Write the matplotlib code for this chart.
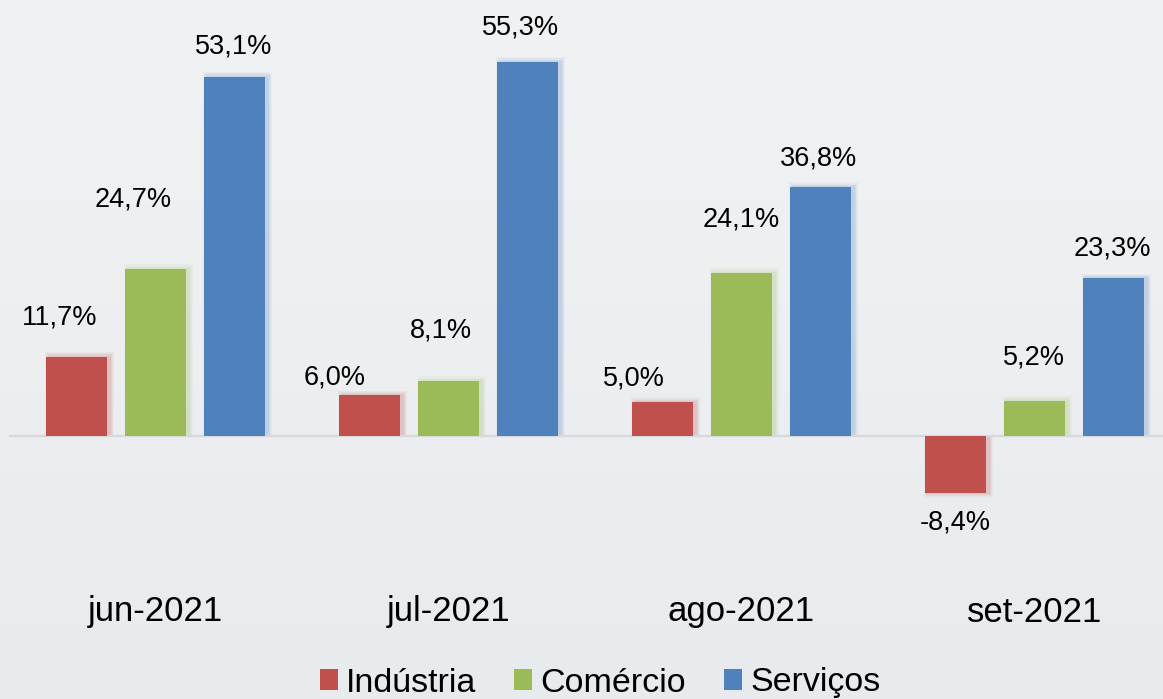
import numpy as np
import matplotlib.pyplot as plt
from matplotlib.patches import Patch

# ------------------------------------------------------------
# Data
# ------------------------------------------------------------
categories = ["jun-2021", "jul-2021", "ago-2021", "set-2021"]
series_names = ["Indústria", "Comércio", "Serviços"]
industria = [11.7, 6.0, 5.0, -8.4]
comercio = [24.7, 8.1, 24.1, 5.2]
servicos = [53.1, 55.3, 36.8, 23.3]

colors = ["#C0504D", "#9BBB59", "#4F81BD"]

# label offsets (pixels) from bar end, per series / category
label_offsets = [
    [(-17, 39), (-35, 18), (-29, 24), (0, -30)],
    [(-22, 69), (-8, 51), (0, 54), (-1, 43)],
    [(-1, 30), (-7, 35), (-2, 29), (-1, 30)],
]

plt.rcParams["font.family"] = ["Liberation Sans", "DejaVu Sans"]

W, H, DPI = 1163, 699, 100
fig = plt.figure(figsize=(W / DPI, H / DPI), dpi=DPI)

# background gradient
bg = fig.add_axes([0, 0, 1, 1])
grad = np.linspace(0, 1, 256).reshape(-1, 1)
top = np.array([0.945, 0.949, 0.957])
bot = np.array([0.910, 0.922, 0.933])
img = top[None, None, :] * (1 - grad[:, :, None]) + bot[None, None, :] * grad[:, :, None]
bg.imshow(img, aspect="auto", extent=[0, 1, 0, 1])
bg.axis("off")

# main axes: pixel mapping
px_per_unit = 6.763
zero_px = 436
ymin = -(H - zero_px) / px_per_unit
ymax = zero_px / px_per_unit
group_px = 293
x0_px = 155.5
xmin = -(x0_px - 9) / group_px
xmax = (W - x0_px) / group_px

ax = fig.add_axes([9 / W, 0, 1 - 9 / W, 1])
ax.set_xlim(xmin, xmax)
ax.set_ylim(ymin, ymax)
ax.axis("off")
ax.patch.set_alpha(0)

bar_w = 61 / group_px
step = 79 / group_px
px = 1 / group_px
x = np.arange(len(categories))
all_series = [industria, comercio, servicos]

for i, (vals, c) in enumerate(zip(all_series, colors)):
    xs = x + (i - 1) * step
    v = np.array(vals)
    # soft shadow/glow to the right of bars
    for k, a in zip([8, 6, 4, 2], [0.05, 0.06, 0.08, 0.10]):
        ax.bar(xs + 3 * px, v + np.sign(v) * k / px_per_unit * 0.6,
               width=bar_w + k * px, color=c, alpha=a, linewidth=0, zorder=1)
    ax.bar(xs, vals, width=bar_w, color=c, linewidth=0, zorder=3)
    for j, val in enumerate(vals):
        dx, dy = label_offsets[i][j]
        ax.annotate(f"{val:.1f}%".replace(".", ","), (xs[j], val),
                    xytext=(dx, dy), textcoords="offset pixels",
                    ha="center", va="center", fontsize=19.5, color="black", zorder=5)

ax.axhline(0, color="#d6d8da", linewidth=1.6, zorder=2)

cat_y = (zero_px - 612) / px_per_unit
for xi, cat in zip(x, categories):
    ax.text(xi, cat_y, cat, ha="center", va="center", fontsize=25, color="black")

handles = [Patch(facecolor=c, edgecolor="none") for c in colors]
fig.legend(handles, series_names, loc="center", bbox_to_anchor=(0.516, 1 - 683 / H),
           ncol=3, frameon=False, fontsize=24.5, handlelength=0.53, handleheight=0.56,
           handletextpad=0.24, columnspacing=1.12, borderaxespad=0, borderpad=0)

fig.savefig("out.png", dpi=DPI)
